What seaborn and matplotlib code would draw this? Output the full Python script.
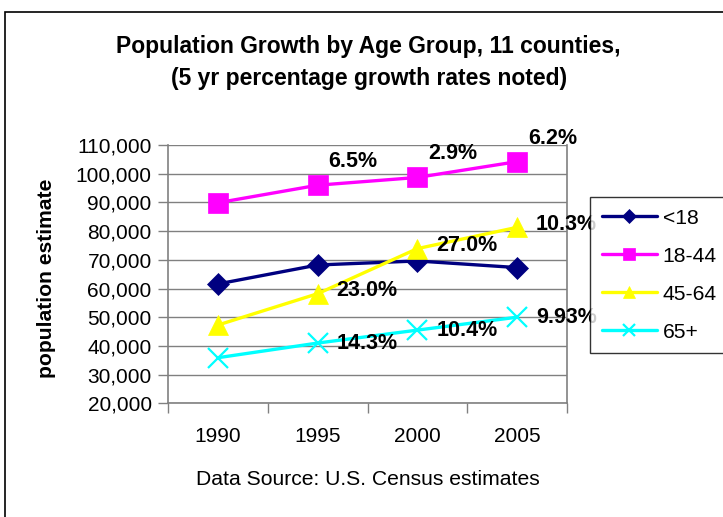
import pandas as pd
import matplotlib
matplotlib.use('Agg')
import matplotlib.pyplot as plt
from matplotlib.patches import Rectangle
from matplotlib.ticker import FuncFormatter, FixedLocator
import seaborn as sns

# ── Data ───────────────────────────────────────────────────────────────────
years = ['1990', '1995', '2000', '2005']
groups = ['<18', '18-44', '45-64', '65+']
under_18 = [61600, 68200, 69600, 67300]
age_18_44 = [89900, 96000, 98700, 104200]
age_45_64 = [47300, 58200, 73900, 81300]
age_65_plus = [35900, 41000, 45500, 50000]

# 5-year growth labels shown next to each point ('' = no label)
growth_18_44 = ['', '6.5%', '2.9%', '6.2%']
growth_45_64 = ['', '23.0%', '27.0%', '10.3%']
growth_65_plus = ['', '14.3%', '10.4%', '9.93%']

colors = {'<18': '#000080', '18-44': '#FF00FF', '45-64': '#FFFF00', '65+': '#00FFFF'}
markers = {'<18': 'D', '18-44': 's', '45-64': '^', '65+': 'x'}
msizes = {'<18': 11, '18-44': 14, '45-64': 14, '65+': 14}

df = pd.DataFrame({
    'year': years * 4,
    'pos': list(range(4)) * 4,
    'group': [g for g in groups for _ in years],
    'value': under_18 + age_18_44 + age_45_64 + age_65_plus,
})

sns.set_style('white')
plt.rcParams['font.family'] = ['Liberation Sans', 'DejaVu Sans']
plt.rcParams.update({'text.color': 'black', 'axes.labelcolor': 'black',
                     'xtick.color': 'black', 'ytick.color': 'black'})

fig = plt.figure(figsize=(7.23, 5.17), dpi=100)
ax = fig.add_axes([0.2328, 0.2199, 0.551, 0.4996])

for g in groups:
    sub = df[df['group'] == g]
    sns.lineplot(
        data=sub, x='pos', y='value', ax=ax,
        color=colors[g], marker=markers[g], markersize=msizes[g],
        markeredgecolor=colors[g], markeredgewidth=1.6 if g == '65+' else 0.5,
        linewidth=2.4, label=g, clip_on=False,
    )

# ── Percentage growth labels ───────────────────────────────────────────────
label_kw = dict(textcoords='offset pixels', fontsize=15.5, fontweight='bold',
                color='black', annotation_clip=False)
for i, txt in enumerate(growth_18_44):
    if txt:
        ax.annotate(txt, (i, age_18_44[i]), xytext=(11, 13),
                    ha='left', va='bottom', **label_kw)
for series, labels, dy in [(age_45_64, growth_45_64, 3), (age_65_plus, growth_65_plus, 0)]:
    for i, txt in enumerate(labels):
        if txt:
            ax.annotate(txt, (i, series[i]), xytext=(19, dy),
                        ha='left', va='center', **label_kw)

# ── Axes styling ───────────────────────────────────────────────────────────
ax.set_xlim(-0.5, 3.5)
ax.set_ylim(20000, 110000)
ax.set_yticks(range(20000, 110001, 10000))
ax.yaxis.set_major_formatter(FuncFormatter(lambda v, p: f'{int(v):,}'))
ax.xaxis.set_major_locator(FixedLocator([-0.5, 0.5, 1.5, 2.5, 3.5]))
ax.xaxis.set_minor_locator(FixedLocator([0, 1, 2, 3]))
ax.set_xticklabels([])
ax.set_xticklabels(years, minor=True)
ax.tick_params(axis='x', which='major', length=7, width=1, color='#808080', direction='out', bottom=True)
ax.tick_params(axis='x', which='minor', length=0, labelsize=15, pad=17, labelcolor='black')
ax.tick_params(axis='y', length=7, width=1, color='#808080', direction='out', left=True,
               labelsize=15, pad=5, labelcolor='black')
ax.grid(axis='y', color='#808080', linewidth=1)
ax.set_axisbelow(True)
for side in ['left', 'bottom', 'right']:
    ax.spines[side].set_color('#808080')
    ax.spines[side].set_linewidth(1.2)
ax.spines['top'].set_visible(False)

ax.set_ylabel('')
ax.set_xlabel('Data Source: U.S. Census estimates', fontsize=15.2, labelpad=17, color='black')
fig.text(47 / 723, 1 - 278 / 517, 'population estimate', rotation=90,
         ha='center', va='center', fontsize=15.2, fontweight='bold', color='black')

fig.text(0.51, 1 - 47 / 517, 'Population Growth by Age Group, 11 counties,',
         ha='center', va='center', fontsize=16.5, fontweight='bold', color='black')
fig.text(0.51, 1 - 78 / 517, '(5 yr percentage growth rates noted)',
         ha='center', va='center', fontsize=16.5, fontweight='bold', color='black')

leg = ax.legend(loc='upper left', bbox_to_anchor=(590 / 723, 1 - 197 / 517),
                bbox_transform=fig.transFigure, fontsize=15.2, frameon=True,
                fancybox=False, edgecolor='black', handlelength=2.6,
                labelspacing=0.9, borderpad=0.55, handletextpad=0.3,
                borderaxespad=0, markerscale=0.65)
leg.get_frame().set_linewidth(1)
for t in leg.get_texts():
    t.set_color('black')

# outer chart border (runs off the right and bottom edges)
fig.patches.append(Rectangle((5 / 723, -0.1), 1.2, 1 - 12 / 517 + 0.1,
                             transform=fig.transFigure, fill=False,
                             edgecolor='black', linewidth=1.2))

fig.savefig('out.png', dpi=100)
